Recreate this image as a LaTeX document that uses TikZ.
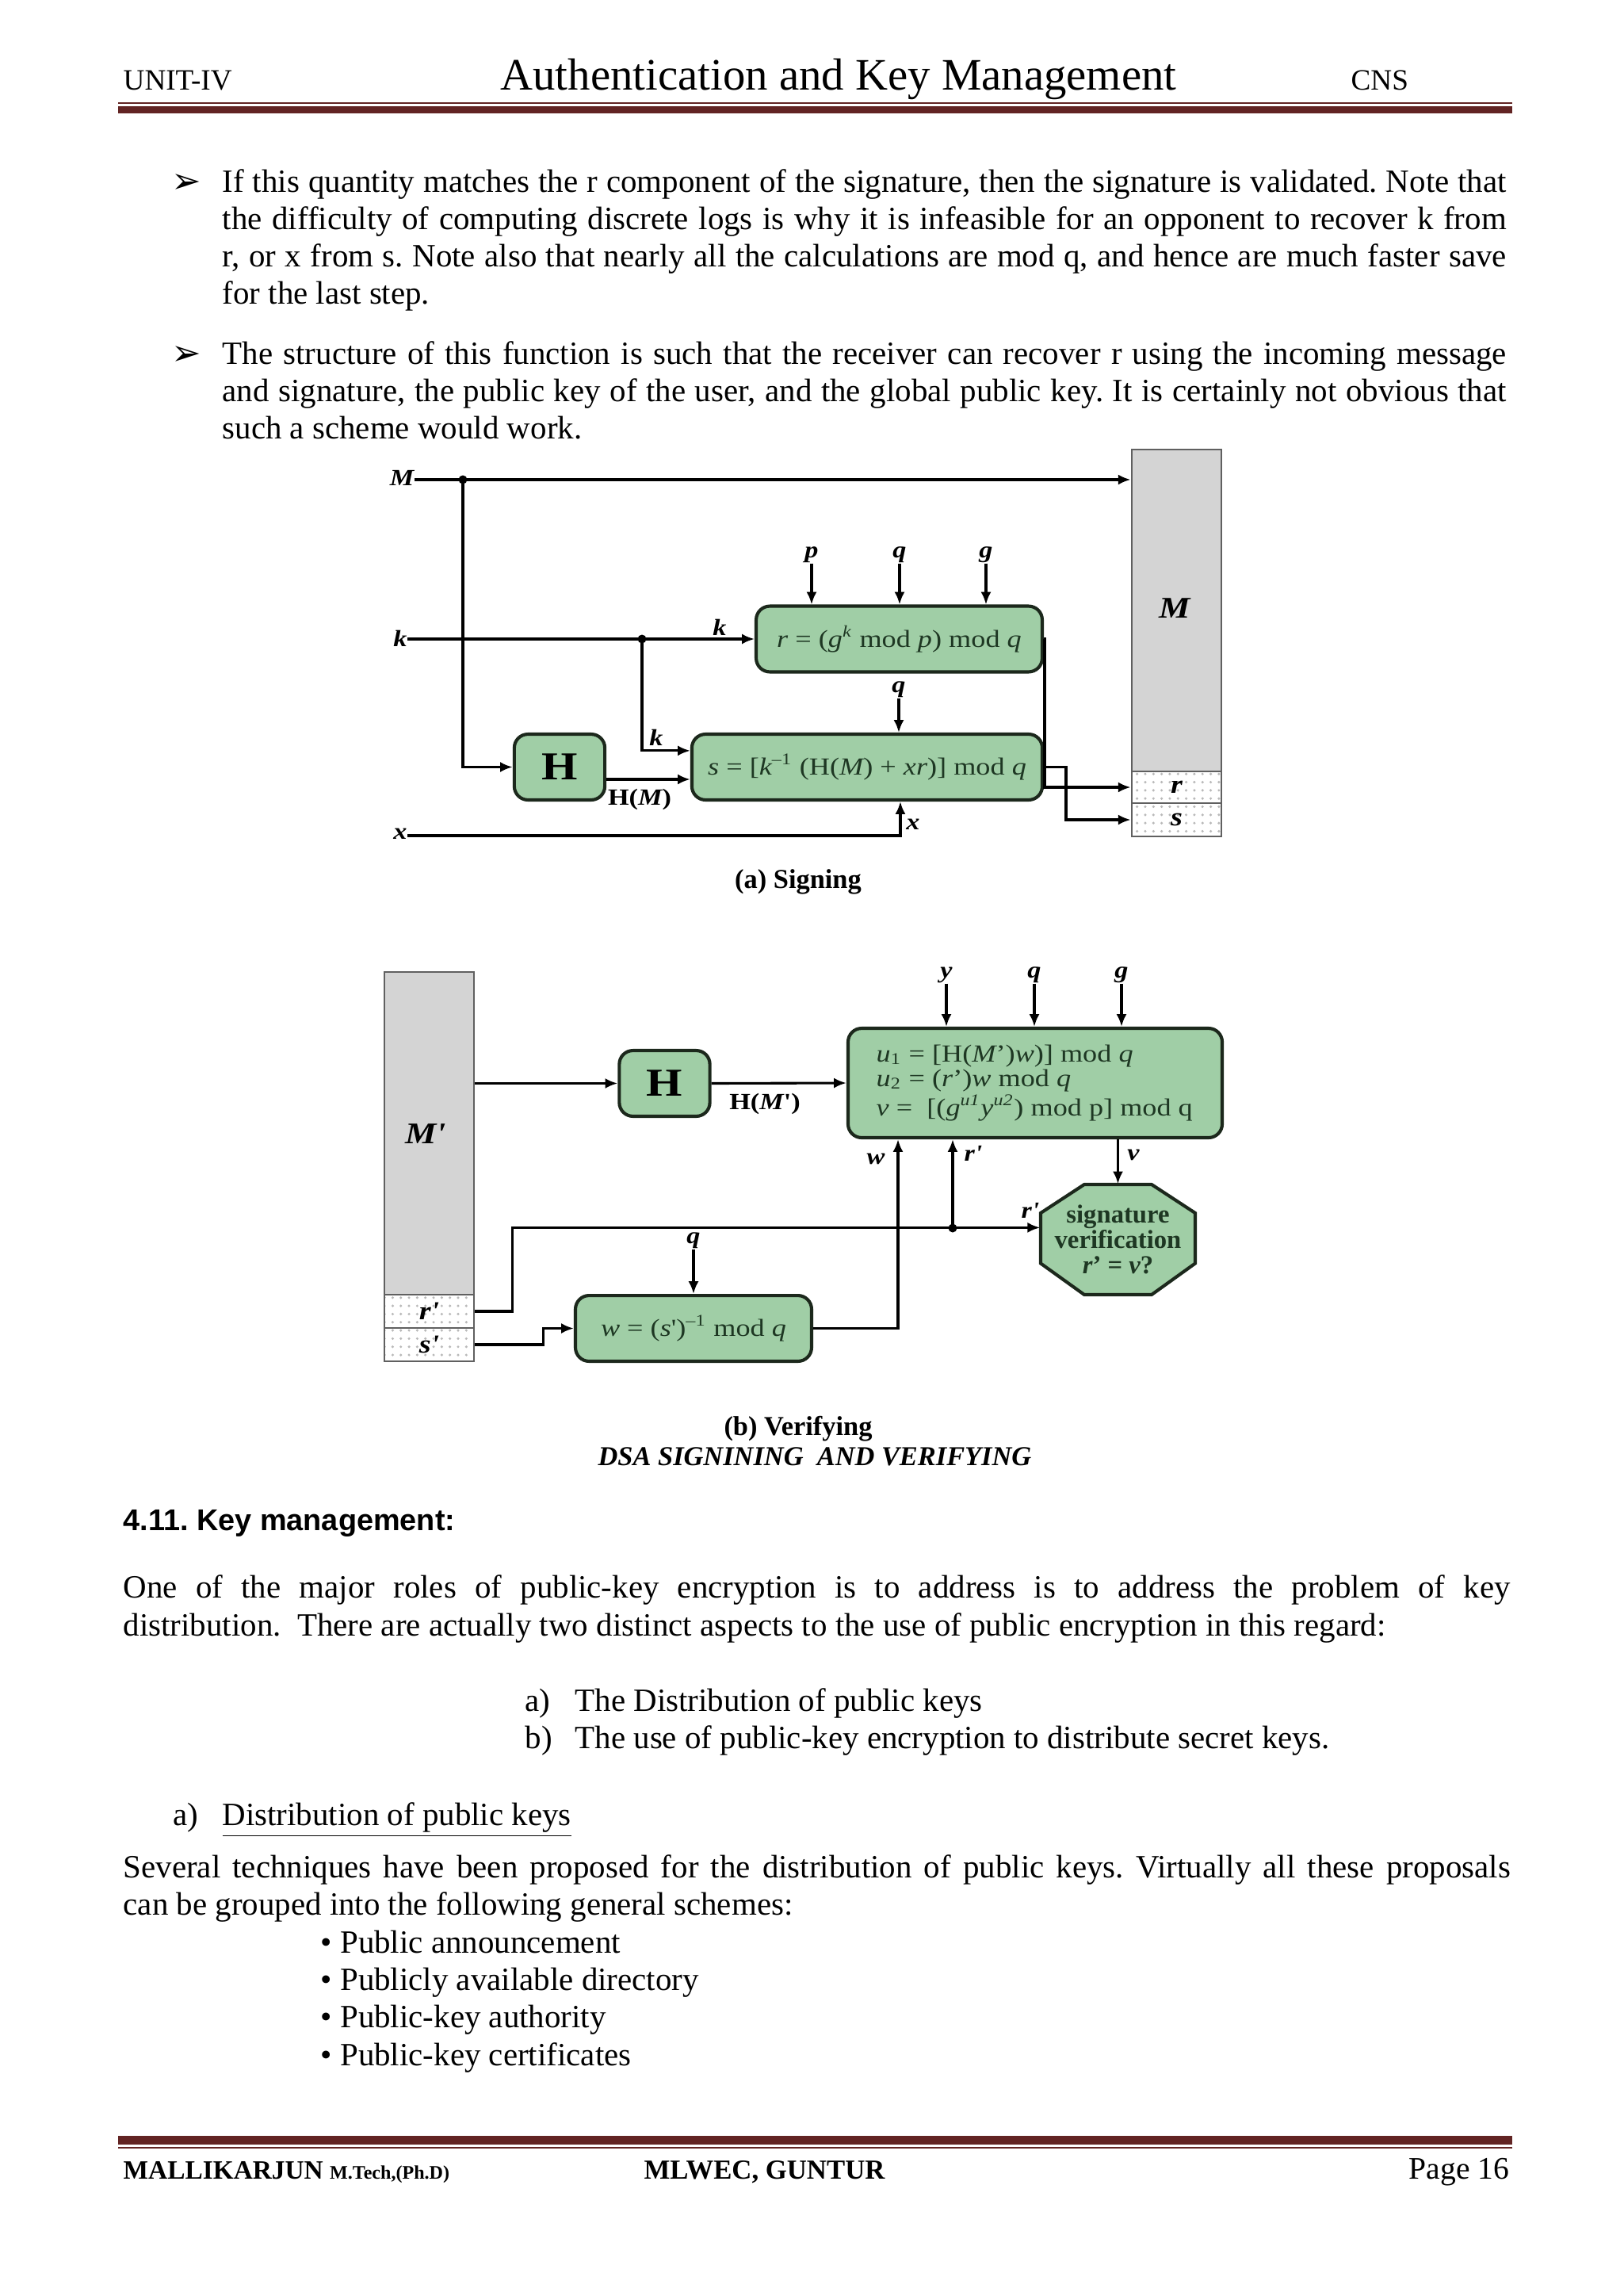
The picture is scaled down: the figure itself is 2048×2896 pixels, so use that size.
\documentclass[tikz,border=0pt]{standalone}
\usepackage{fontspec}
\setmainfont{Liberation Serif}
\newfontfamily\arialf{Liberation Sans}
\newfontfamily\djv{DejaVu Sans}
\newfontfamily\dfont[FakeStretch=1.17]{Liberation Serif}
\usetikzlibrary{arrows.meta,patterns,calc}
\definecolor{maroon}{RGB}{98,36,35}
\definecolor{boxgreen}{RGB}{160,206,166}
\definecolor{boxedge}{RGB}{28,40,28}
\definecolor{boxtext}{RGB}{30,55,35}
\definecolor{mgray}{RGB}{212,212,212}
\newcommand\jl[2]{\makebox[#1][s]{#2}}
\begin{document}
\frenchspacing
\begin{tikzpicture}[x=0.29067pt,y=-0.29067pt,
  txt/.style={inner sep=0pt,anchor=base west,font=\fontsize{11.9}{13.66}\selectfont},
  gbox/.style={draw=boxedge,line width=1.2pt,fill=boxgreen,rounded corners=5pt,inner sep=0pt,
    text=boxtext,font={\dfont\fontsize{9}{9.6}\selectfont},minimum height=24.1pt},
  hstyle/.style={gbox,font={\dfont\bfseries\fontsize{14.5}{14}\selectfont},text=black,minimum width=33.2pt},
  lab/.style={inner sep=0pt,font={\dfont\bfseries\itshape\fontsize{8.5}{9}\selectfont}},
  ulab/.style={inner sep=0pt,font={\dfont\bfseries\fontsize{8.5}{9}\selectfont}},
  mbox/.style={draw=gray!75!black,fill=mgray,line width=0.8pt,inner sep=0pt,minimum width=32.85pt},
  cell/.style={draw=gray!75!black,line width=0.8pt,pattern=dots,pattern color=gray!55,inner sep=0pt,
    minimum width=32.85pt,minimum height=12pt,font={\dfont\bfseries\itshape\fontsize{9.5}{9}\selectfont}},
  arr/.style={line width=0.9pt,-{Latex[length=4.6pt,width=3.8pt]}},
  captxt/.style={inner sep=0pt,font={\bfseries\fontsize{10}{12}\selectfont}},
  octdraw/.style={draw=boxedge,line width=1.2pt,fill=boxgreen},
  octs/.style={inner sep=0pt,minimum width=56.7pt,minimum height=40.4pt,
    align=center,text=boxtext,font={\bfseries\fontsize{9.5}{9.2}\selectfont}}
]
\useasboundingbox (0,0) rectangle (2048,2896);
\fill[white] (0,0) rectangle (2048,2896);

% ---------- header ----------
\node[inner sep=0pt,anchor=base west,font=\fontsize{10.8}{13}\selectfont] (unit) at (155,113) {UNIT-IV};
\node[inner sep=0pt,anchor=base,font=\fontsize{16.5}{20}\selectfont] (title) at (1058,113) {Authentication and Key Management};
\node[inner sep=0pt,anchor=base west,font=\fontsize{10.8}{13}\selectfont] (cns) at (1704,113) {CNS};
\fill[maroon] (149,129) rectangle (1908,131);
\fill[maroon] (149,134) rectangle (1908,143);

% ---------- bullets text ----------
\node[inner sep=0pt,anchor=base west,font={\djv\fontsize{13}{14}\selectfont}] (ar1) at (216,243) {➢};
\node[txt] (b1) at (280,242) {\jl{470.9pt}{If this quantity matches the r component of the signature, then the signature is validated. Note that}};
\node[txt] (b2) at (280,289) {\jl{470.9pt}{the difficulty of computing discrete logs is why it is infeasible for an opponent to recover k from}};
\node[txt] (b3) at (280,336) {\jl{470.9pt}{r, or x from s. Note also that nearly all the calculations are mod q, and hence are much faster save}};
\node[txt] (b4) at (280,383) {for the last step.};
\node[inner sep=0pt,anchor=base west,font={\djv\fontsize{13}{14}\selectfont}] (ar2) at (216,460) {➢};
\node[txt] (c1) at (280,459) {\jl{470.9pt}{The structure of this function is such that the receiver can recover r using the incoming message}};
\node[txt] (c2) at (280,506) {\jl{470.9pt}{and signature, the public key of the user, and the global public key. It is certainly not obvious that}};
\node[txt] (c3) at (280,553) {such a scheme would work.};

% ---------- (a) signing ----------
\node[mbox,minimum height=118pt] (Mbox) at (1484.5,770) {};
\node[inner sep=0pt,font={\dfont\bfseries\itshape\fontsize{11}{11}\selectfont}] (Min) at (1482,767) {M};
\node[cell,minimum height=11.63pt] (rcell) at (1484.5,993) {r};
\node[cell,minimum height=12.2pt] (scell) at (1484.5,1034) {s};

\node[gbox,minimum width=104.9pt] (rbox) at (1134.5,806)
  {{\itshape r} = ({\itshape g}\textsuperscript{\itshape k} mod {\itshape p}) mod {\itshape q}};
\node[gbox,minimum width=128.5pt] (sbox) at (1094,967.5)
  {{\itshape s} = [{\itshape k}\textsuperscript{–1} (H({\itshape M}) + {\itshape xr})] mod {\itshape q}};
\node[hstyle] (H1) at (706,967.5) {H};

\node[lab] (Ml) at (507,603) {M};
\node[lab] (kl) at (505,805) {k};
\node[lab] (xl) at (505,1052) {x};
\coordinate (dM) at (584,605);
\coordinate (dK) at (810,806);
\draw[arr] (Ml.east |- dM) -- (dM -| Mbox.west);
\fill (dM) circle (1.6pt);
\draw[arr] (kl.east |- dK) -- (rbox.west);
\fill (dK) circle (1.6pt);
\node[lab] (k1) at (908,791) {k};
\draw[arr] (dM) |- (H1.west);
\draw[arr] (dK) |- ([yshift=6pt]sbox.west);
\node[lab] (k2) at (828,930) {k};
\draw[arr] ([yshift=-4.5pt]H1.east) -- ([yshift=-4.5pt]sbox.west);
\node[ulab] (HM) at (807,1008) {H({\itshape M})};

\node[lab] (pl) at (1024,700) {p};
\node[lab] (ql) at (1135,700) {q};
\node[lab] (gl) at (1244,700) {g};
\draw[arr] (pl.south) -- (pl.south |- rbox.north);
\draw[arr] (ql.south) -- (ql.south |- rbox.north);
\draw[arr] (gl.south) -- (gl.south |- rbox.north);
\node[lab] (qs) at (1134,870) {q};
\draw[arr] (qs.south) -- (qs.south |- sbox.north);
\draw[arr] (xl.east |- 0,1054) -| ([xshift=12.2pt]sbox.south);
\node[lab] (xlab) at (1152,1040) {x};

\coordinate (rt) at (1318,806);
\draw[arr] (rbox.east) -- (rt) |- (rcell.west);
\coordinate (st) at (1345,967.5);
\draw[arr] (sbox.east) -- (st) |- (scell.west);

\node[captxt] (capa) at (1007,1112) {(a) Signing};

% ---------- (b) verifying ----------
\node[mbox,minimum height=118.3pt] (Mp) at (541.5,1429.5) {};
\node[inner sep=0pt,font={\dfont\bfseries\itshape\fontsize{11}{11}\selectfont}] (Mpl) at (537,1430) {M'};
\node[cell,minimum height=12.2pt] (rpc) at (541.5,1654) {r'};
\node[cell,minimum height=12.2pt] (spc) at (541.5,1696) {s'};

\node[hstyle] (H2) at (838.5,1366.5) {H};
\node[gbox,minimum width=137.2pt,minimum height=40.1pt] (V) at (1306,1366) {};
\node[inner sep=0pt,anchor=west,align=left,text=boxtext,font={\dfont\fontsize{9}{9}\selectfont}] (Vt) at (1105,1366)
  {{\itshape u}\textsubscript{1} = [H({\itshape M}’){\itshape w})] mod {\itshape q}\\
   {\itshape u}\textsubscript{2} = ({\itshape r}’){\itshape w} mod {\itshape q}\\
   {\itshape v} = \ [({\itshape g}\textsuperscript{\itshape u1}{\itshape y}\textsuperscript{\itshape u2}) mod p] mod q};
\draw[arr] (H2.west -| Mp.east) -- (H2.west);
\draw[arr] (H2.east) -- (V.west);
\node[ulab] (HMp) at (965,1392) {H({\itshape M}')};

\node[lab] (yl) at (1194,1230) {y};
\node[lab] (ql2) at (1305,1230) {q};
\node[lab] (gl2) at (1415,1230) {g};
\draw[arr] (yl.south) -- (yl.south |- V.north);
\draw[arr] (ql2.south) -- (ql2.south |- V.north);
\draw[arr] (gl2.south) -- (gl2.south |- V.north);

\coordinate (octc) at (1410.5,1563.5);
\draw[octdraw] ($(octc)+(-42.5,-69.5)$) -- ($(octc)+(42.5,-69.5)$) -- ($(octc)+(97.5,-33.5)$)
  -- ($(octc)+(97.5,30)$) -- ($(octc)+(42.5,69.5)$) -- ($(octc)+(-42.5,69.5)$)
  -- ($(octc)+(-97.5,30)$) -- ($(octc)+(-97.5,-33.5)$) -- cycle;
\node[octs] (oct) at (octc) {signature\\verification\\{\itshape r}' = {\itshape v}?};
\draw[arr] (oct.north |- V.south) -- (oct.north);
\node[lab] (vlab) at (1430,1457) {v};

\node[gbox,minimum width=86.6pt] (W) at (875,1675.5) {{\itshape w} = ({\itshape s}')\textsuperscript{–1} mod {\itshape q}};
\node[lab] (qw) at (875,1565) {q};
\draw[arr] (qw.south) -- (qw.south |- W.north);

\coordinate (dR) at (1202,1549);
\coordinate (wc) at (1133,1675.5);
\draw[arr] (rpc.east) -- ++(47,0) |- ([yshift=4.4pt]oct.west);
\fill (dR) circle (1.6pt);
\draw[arr] (dR) -- (dR |- V.south);
\draw[arr] (W.east) -- (wc) -- (wc |- V.south);
\draw[arr] (spc.east) -- ++(86,0) |- (W.west);
\node[lab] (wl) at (1105,1462) {w};
\node[lab] (rl2) at (1228,1455) {r'};
\node[lab] (rl3) at (1300,1527) {r'};

\node[captxt] (capb) at (1007,1802) {(b) Verifying};
\node[inner sep=0pt,anchor=base,font={\bfseries\itshape\fontsize{10}{12}\selectfont}] (dsa) at (1028,1848) {DSA SIGNINING\ \ AND VERIFYING};

% ---------- key management ----------
\node[inner sep=0pt,anchor=base west,font={\arialf\bfseries\fontsize{11}{13}\selectfont}] (km) at (155,1930) {4.11. Key management:};
\node[txt] (p1) at (155,2015) {\jl{508.7pt}{One of the major roles of public-key encryption is to address is to address the problem of key}};
\node[txt] (p2) at (155,2063) {distribution.\ \ There are actually two distinct aspects to the use of public encryption in this regard:};
\node[txt] (ia) at (662,2158) {a)};
\node[txt] (iat) at (725,2158) {The Distribution of public keys};
\node[txt] (ib) at (662,2205) {b)};
\node[txt] (ibt) at (725,2205) {The use of public-key encryption to distribute secret keys.};
\node[txt] (da) at (218,2302) {a)};
\node[txt] (dat) at (280,2302) {\underline{Distribution of public keys}};
\node[txt] (s1) at (155,2368) {\jl{508.7pt}{Several techniques have been proposed for the distribution of public keys. Virtually all these proposals}};
\node[txt] (s2) at (155,2415) {can be grouped into the following general schemes:};
\node[txt] (l1) at (404,2463) {• Public announcement};
\node[txt] (l2) at (404,2510) {• Publicly available directory};
\node[txt] (l3) at (404,2557) {• Public-key authority};
\node[txt] (l4) at (404,2605) {• Public-key certificates};

% ---------- footer ----------
\fill[maroon] (149,2694) rectangle (1908,2705);
\fill[maroon] (149,2708) rectangle (1908,2710);
\node[inner sep=0pt,anchor=base west,font={\bfseries\fontsize{9.7}{12}\selectfont}] (auth) at (155,2748)
  {MALLIKARJUN {\fontsize{7}{8}\selectfont M.Tech,(Ph.D)}};
\node[inner sep=0pt,anchor=base west,font={\bfseries\fontsize{10.1}{12}\selectfont}] (coll) at (812,2748) {MLWEC, GUNTUR};
\node[inner sep=0pt,anchor=base east,font={\fontsize{11.5}{12}\selectfont}] (page) at (1905,2748) {Page 16};
\end{tikzpicture}
\end{document}
